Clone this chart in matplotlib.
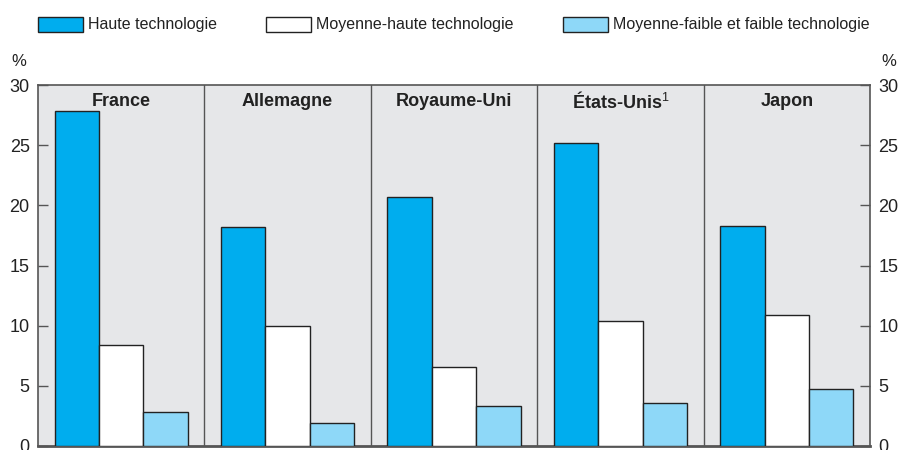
import numpy as np
import matplotlib.pyplot as plt
from matplotlib.patches import Rectangle

plt.rcParams['font.family'] = ['Liberation Sans', 'DejaVu Sans']
plt.rcParams['mathtext.fontset'] = 'custom'
plt.rcParams['mathtext.rm'] = 'Liberation Sans'

# données
pays = ["France", "Allemagne", "Royaume-Uni", "États-Unis$^{\\mathrm{1}}$", "Japon"]
haute = [27.8, 18.2, 20.7, 25.2, 18.3]
moy_haute = [8.4, 10.0, 6.6, 10.4, 10.9]
moy_faible = [2.8, 1.9, 3.3, 3.6, 4.7]
series_noms = ["Haute technologie", "Moyenne-haute technologie",
               "Moyenne-faible et faible technologie"]
yticks = [0, 5, 10, 15, 20, 25, 30]

couleurs = ['#00adee', '#ffffff', '#8ed8f8']
bord = '#222222'
axe = '#555555'

W, H = 901, 450
fig = plt.figure(figsize=(W / 100, H / 100), dpi=100)
ax = fig.add_axes([38 / W, 4 / H, (870 - 38) / W, (446 - 85) / H])
ax.set_facecolor('#e6e7e9')

x = np.arange(len(pays)) + 0.5
bw = 0.267
for k, vals in enumerate([haute, moy_haute, moy_faible]):
    ax.bar(x + (k - 1) * bw, vals, width=bw, color=couleurs[k],
           edgecolor=bord, linewidth=1.0, zorder=3)

for i in range(1, len(pays)):
    ax.axvline(i, color=axe, linewidth=1.0, zorder=2)

for i, p in enumerate(pays):
    ax.text(x[i], 28.65, p, ha='center', va='center', fontsize=13,
            fontweight='bold', color='#222222', zorder=4)

ax.set_xlim(0, len(pays))
ax.set_ylim(0, 30)
ax.set_xticks([])
ax.set_yticks(yticks)
ax.tick_params(axis='y', direction='in', length=7, width=1, color=axe,
               right=True, labelright=True, labelsize=13,
               labelcolor='#222222', pad=6)
for s in ['left', 'right', 'top']:
    ax.spines[s].set_color(axe)
    ax.spines[s].set_linewidth(1.2)
ax.spines['bottom'].set_color(axe)
ax.spines['bottom'].set_linewidth(2.0)

fig.text(19 / W, 1 - 62 / H, "%", ha='center', va='center', fontsize=12, color='#222222')
fig.text(889 / W, 1 - 62 / H, "%", ha='center', va='center', fontsize=12, color='#222222')

# légende
leg_x = [38, 266, 563]
for k, nom in enumerate(series_noms):
    r = Rectangle((leg_x[k] / W, 1 - 32 / H), 45 / W, 15 / H,
                  transform=fig.transFigure, facecolor=couleurs[k],
                  edgecolor=bord, linewidth=1.0)
    fig.patches.append(r)
    fig.text((leg_x[k] + 50) / W, 1 - 24.5 / H, nom, ha='left', va='center',
             fontsize=11.5, color='#222222')

fig.savefig("out.png", dpi=100)
